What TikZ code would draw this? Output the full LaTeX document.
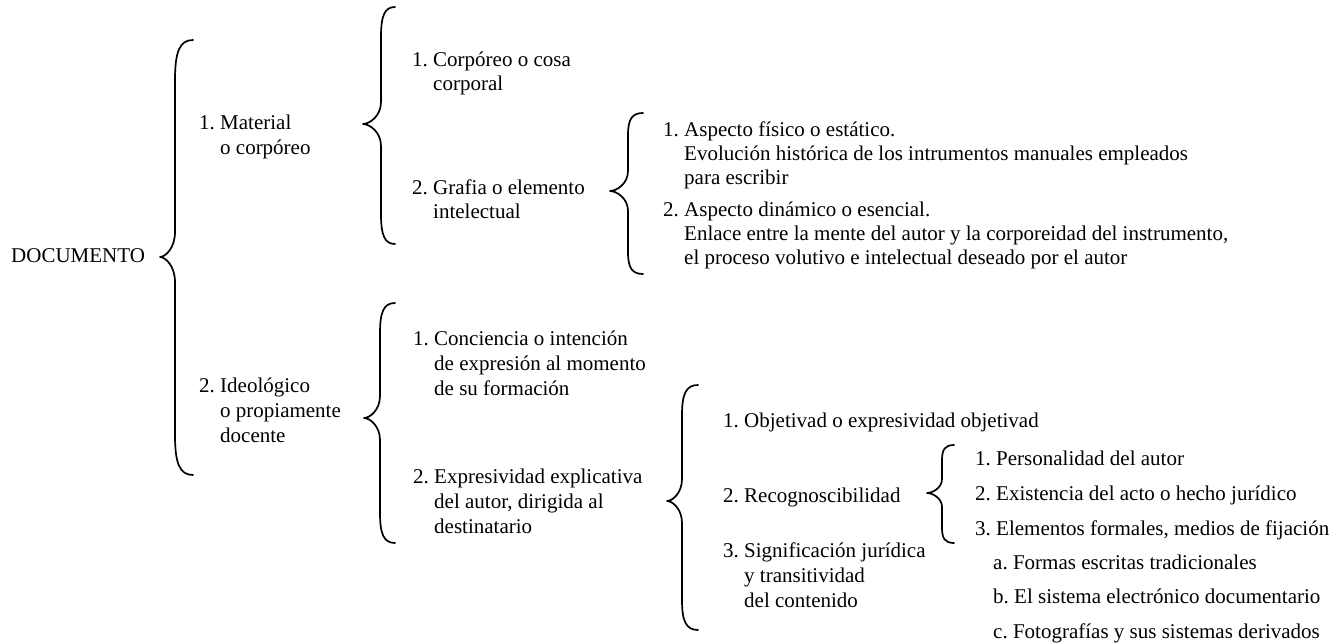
\documentclass[tikz,border=0pt]{standalone}
\usepackage{fontspec}
\setmainfont{Liberation Serif}

% curly brace: #1 end x, #2 stem x, #3 tip x, #4 top y, #5 tip y, #6 bottom y, #7 end curl, #8 tip curl
\newcommand\curlybrace[8]{%
  \draw[bracestroke]
    (#1,#4) .. controls (#2+0.25*#1-0.25*#2,#4) and (#2,#4+0.3*#7) .. (#2,#4+#7)
    -- (#2,#5-#8)
    .. controls (#2,#5-0.35*#8) and (#3+0.35*#2-0.35*#3,#5) .. (#3,#5)
    .. controls (#3+0.35*#2-0.35*#3,#5) and (#2,#5+0.35*#8) .. (#2,#5+#8)
    -- (#2,#6-#7)
    .. controls (#2,#6-0.3*#7) and (#2+0.25*#1-0.25*#2,#6) .. (#1,#6);}
\newcommand\indnt{\hphantom{1.\ }}

\begin{document}
\begin{tikzpicture}[x=1pt,y=-1pt,
  bracestroke/.style={line width=1.7pt,line cap=round,line join=round},
  txt/.style={anchor=base west,inner sep=0pt,font=\fontsize{21}{24}\selectfont},
  txtw/.style={txt,font=\fontsize{21}{25}\selectfont}]
\useasboundingbox (0,0) rectangle (1341,644);

% root
\node[txt] (doc) at (11,263) {DOCUMENTO};
\curlybrace{193}{175}{160}{40}{257}{475}{40}{25}

% first level
\node[txtw] (mat) at (199,130) {\begin{tabular}[t]{@{}l@{}}1.\ Material\\\indnt o corpóreo\end{tabular}};
\node[txtw] (ideo) at (199,392) {\begin{tabular}[t]{@{}l@{}}2.\ Ideológico\\\indnt o propiamente\\\indnt docente\end{tabular}};

% material branch
\curlybrace{395}{381}{363}{7}{124}{244}{30}{22}
\node[txt] (corp) at (412,67) {\begin{tabular}[t]{@{}l@{}}1.\ Corpóreo o cosa\\\indnt corporal\end{tabular}};
\node[txt] (graf) at (412,195) {\begin{tabular}[t]{@{}l@{}}2.\ Grafia o elemento\\\indnt intelectual\end{tabular}};

\curlybrace{643}{628}{610}{113}{191}{274}{22}{20}
\node[txt] (fis) at (663,137) {\begin{tabular}[t]{@{}l@{}}1.\ Aspecto físico o estático.\\\indnt Evolución histórica de los intrumentos manuales empleados\\\indnt para escribir\end{tabular}};
\node[txt] (din) at (663,217) {\begin{tabular}[t]{@{}l@{}}2.\ Aspecto dinámico o esencial.\\\indnt Enlace entre la mente del autor y la corporeidad del instrumento,\\\indnt el proceso volutivo e intelectual deseado por el autor\end{tabular}};

% ideological branch
\curlybrace{395}{380}{364}{303}{418}{543}{30}{22}
\node[txtw] (conc) at (413,345) {\begin{tabular}[t]{@{}l@{}}1.\ Conciencia o intención\\\indnt de expresión al momento\\\indnt de su formación\end{tabular}};
\node[txtw] (expr) at (413,483) {\begin{tabular}[t]{@{}l@{}}2.\ Expresividad explicativa\\\indnt del autor, dirigida al\\\indnt destinatario\end{tabular}};

\curlybrace{698}{682}{667}{385}{501}{630}{30}{22}
\node[txt] (obj) at (723,427) {1.\ Objetivad o expresividad objetivad};
\node[txt] (rec) at (723,502) {2.\ Recognoscibilidad};
\node[txtw] (sig) at (723,557) {\begin{tabular}[t]{@{}l@{}}3.\ Significación jurídica\\\indnt y transitividad\\\indnt del contenido\end{tabular}};

\curlybrace{954}{942}{927}{445}{493}{543}{15}{14}
\node[txt] (pers) at (975,465) {1.\ Personalidad del autor};
\node[txt] (exis) at (975,500) {2.\ Existencia del acto o hecho jurídico};
\node[txt] (elem) at (975,535) {3.\ Elementos formales, medios de fijación};
\node[txt] (fa) at (993,569) {a.\ Formas escritas tradicionales};
\node[txt] (fb) at (993,603) {b.\ El sistema electrónico documentario};
\node[txt] (fc) at (993,638) {c.\ Fotografías y sus sistemas derivados};
\end{tikzpicture}
\end{document}
